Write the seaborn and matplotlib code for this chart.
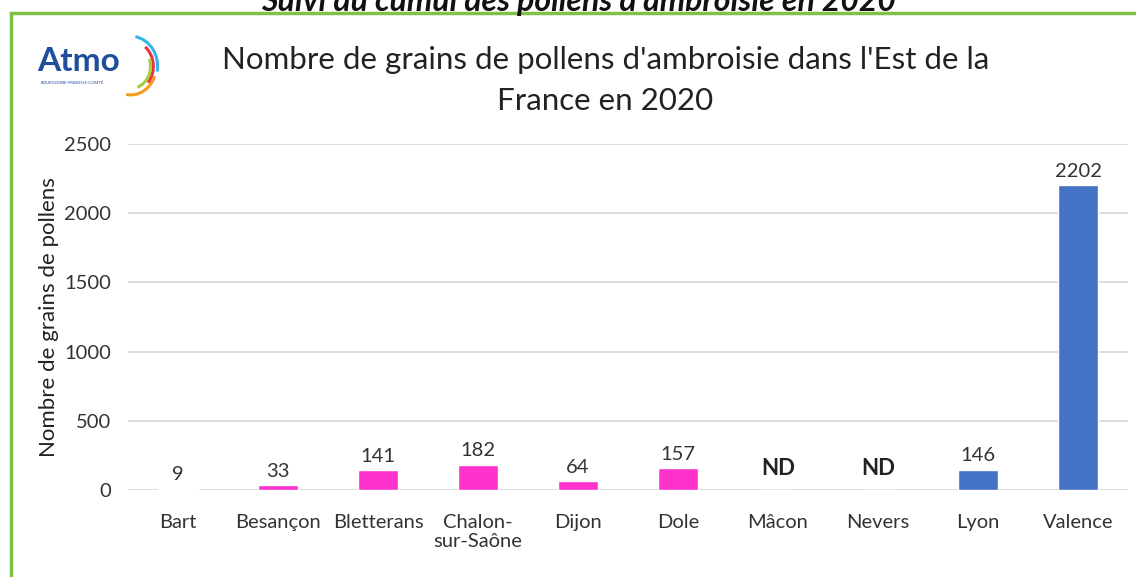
import matplotlib
matplotlib.use("Agg")
import matplotlib.pyplot as plt
import matplotlib.patches as mpatches
import seaborn as sns
import pandas as pd

# data
villes = ["Bart", "Besançon", "Bletterans", "Chalon-\nsur-Saône", "Dijon",
          "Dole", "Mâcon", "Nevers", "Lyon", "Valence"]
grains = [9, 33, 141, 182, 64, 157, 0, 0, 146, 2202]
etiquettes = ["9", "33", "141", "182", "64", "157", "ND", "ND", "146", "2202"]
couleurs = ["#ff33cc"] * 8 + ["#4472c4"] * 2

df = pd.DataFrame({"ville": villes, "grains": grains})

sns.set_theme(style="white")
plt.rcParams["font.family"] = ["Lato", "DejaVu Sans"]

fig = plt.figure(figsize=(11.36, 5.77), dpi=100)
ax = fig.add_axes([0.1127, 0.1508, 0.8803, 0.5997])

sns.barplot(data=df, x="ville", y="grains", hue="ville", palette=couleurs,
            legend=False, width=0.4, saturation=1, ax=ax)

ax.set_ylim(0, 2500)
ax.set_yticks(range(0, 2501, 500))
ax.yaxis.grid(True, color="#d9d9d9", linewidth=1.3)
ax.set_axisbelow(True)
for s in ax.spines.values():
    s.set_visible(False)
ax.tick_params(axis="both", length=0, labelsize=14.5, colors="#333333")
ax.tick_params(axis="x", pad=17)
ax.tick_params(axis="y", pad=12)
ax.set_xlabel("")
ax.set_ylabel("Nombre de grains de pollens", fontsize=16, color="#222222", labelpad=4)

for i, (v, lab) in enumerate(zip(grains, etiquettes)):
    if lab == "ND":
        ax.annotate(lab, (i, 0), xytext=(0, 8), textcoords="offset points",
                    ha="center", va="bottom", fontsize=16, fontweight="bold",
                    color="#222222", clip_on=False)
    else:
        ax.annotate(lab, (i, v), xytext=(0, 4), textcoords="offset points",
                    ha="center", va="bottom", fontsize=14.5, color="#333333",
                    clip_on=False)

# titles
fig.text(0.533, 0.86, "Nombre de grains de pollens d'ambroisie dans l'Est de la\nFrance en 2020",
         ha="center", va="center", fontsize=22.5, color="#222222", linespacing=1.55)
fig.text(0.509, 0.997, "Suivi du cumul des pollens d'ambroisie en 2020", ha="center",
         va="center", fontsize=23, fontweight="bold", style="italic", color="#111111")

# green frame
fig.patches.append(mpatches.Rectangle((11 / 1136, -0.05), 1.1, 0.05 + 1 - 13 / 577,
                                      transform=fig.transFigure, fill=False,
                                      edgecolor="#7dc242", linewidth=2.5))

# logo
fig.text(0.033, 0.893, "Atmo", fontsize=24, fontweight="bold", color="#1f4e9c",
         ha="left", va="center")
fig.text(0.036, 0.857, "BOURGOGNE-FRANCHE-COMTÉ", fontsize=3, color="#1f4e9c",
         ha="left", va="center")
lax = fig.add_axes([0.1, 0.83, 0.05, 0.11])
lax.set_xlim(-1, 1)
lax.set_ylim(-1, 1)
lax.axis("off")
for r, t1, t2, c in [(0.95, -10, 80, "#36b6e6"), (0.8, -40, 50, "#e8334a"),
                     (0.7, -70, 20, "#a3cf3a"), (0.9, -100, -20, "#f39a1f")]:
    lax.add_patch(mpatches.Arc((-0.4, 0), r * 2, r * 2, theta1=t1, theta2=t2,
                               color=c, linewidth=2.2))

fig.savefig("out.png", dpi=100)
